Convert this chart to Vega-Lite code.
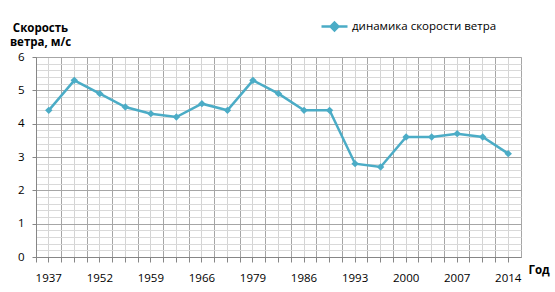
{
  "$schema": "https://vega.github.io/schema/vega-lite/v6.json",
  "width": 485,
  "height": 200,
  "autosize": {"type": "none"},
  "padding": {"left": 36, "top": 57, "right": 34, "bottom": 35},
  "background": "white",
  "config": {
    "view": {"stroke": "#a6a6a6", "strokeWidth": 1},
    "font": "Open Sans",
    "axis": {
      "labelFont": "Open Sans",
      "labelFontSize": 11.5,
      "labelColor": "#000000",
      "titleFont": "Open Sans",
      "titleFontSize": 11.5,
      "titleFontWeight": "bold",
      "titleColor": "#000000",
      "domainColor": "#868686",
      "tickColor": "#868686"
    }
  },
  "data": {
    "values": [
      {"year": "1937", "speed": 4.4},
      {"year": "1945", "speed": 5.3},
      {"year": "1952", "speed": 4.9},
      {"year": "1955", "speed": 4.5},
      {"year": "1959", "speed": 4.3},
      {"year": "1962", "speed": 4.2},
      {"year": "1966", "speed": 4.6},
      {"year": "1972", "speed": 4.4},
      {"year": "1979", "speed": 5.3},
      {"year": "1982", "speed": 4.9},
      {"year": "1986", "speed": 4.4},
      {"year": "1990", "speed": 4.4},
      {"year": "1993", "speed": 2.8},
      {"year": "1996", "speed": 2.7},
      {"year": "2000", "speed": 3.6},
      {"year": "2004", "speed": 3.6},
      {"year": "2007", "speed": 3.7},
      {"year": "2010", "speed": 3.6},
      {"year": "2014", "speed": 3.1}
    ]
  },
  "encoding": {
    "y": {
      "field": "speed",
      "type": "quantitative",
      "scale": {"domain": [0, 6], "nice": false, "zero": true},
      "axis": {
        "values": [0, 0.2, 0.4, 0.6, 0.8, 1, 1.2, 1.4, 1.6, 1.8, 2, 2.2, 2.4, 2.6, 2.8, 3, 3.2, 3.4, 3.6, 3.8, 4, 4.2, 4.4, 4.6, 4.8, 5, 5.2, 5.4, 5.6, 5.8, 6],
        "labelExpr": "abs(datum.value - round(datum.value)) < 0.001 ? '' + round(datum.value) : ''",
        "labelOverlap": false,
        "grid": true,
        "gridColor": {"condition": {"test": "abs(datum.value - round(datum.value)) < 0.001", "value": "#a6a6a6"}, "value": "#d9d9d9"},
        "tickOpacity": {"condition": {"test": "abs(datum.value - round(datum.value)) < 0.001", "value": 1}, "value": 0},
        "tickSize": 4,
        "labelPadding": 8,
        "title": ["Скорость", "ветра, м/с"],
        "titleAngle": 0,
        "titleAlign": "center",
        "titleAnchor": null,
        "titleX": 4,
        "titleY": -35,
        "titleBaseline": "top",
        "titleLineHeight": 14
      }
    }
  },
  "layer": [
    {
      "mark": {"type": "point", "opacity": 0},
      "encoding": {
        "x": {
          "field": "year",
          "type": "ordinal",
          "scale": {"type": "band", "paddingInner": 0, "paddingOuter": 0},
          "axis": {
            "orient": "bottom",
            "bandPosition": 0,
            "labels": false,
            "grid": true,
            "gridColor": "#a6a6a6",
            "ticks": true,
            "tickSize": 5,
            "domain": false,
            "title": null
          }
        }
      }
    },
    {
      "mark": {
        "type": "line",
        "strokeWidth": 2.5,
        "point": {"shape": "diamond", "size": 55, "filled": true, "opacity": 1}
      },
      "encoding": {
        "x": {
          "field": "year",
          "type": "ordinal",
          "bandPosition": 0.5,
          "scale": {"type": "band", "paddingInner": 0, "paddingOuter": 0},
          "axis": {
            "orient": "bottom",
            "bandPosition": 0.5,
            "labelExpr": "indexof(['1937','1952','1959','1966','1979','1986','1993','2000','2007','2014'], datum.label) >= 0 ? datum.label : ''",
            "labelOverlap": false,
            "labelAngle": 0,
            "labelPadding": 10,
            "grid": true,
            "gridColor": "#d4d4d4",
            "ticks": true,
            "tickSize": 5,
            "domain": true,
            "title": "Год",
            "titleAnchor": null,
            "titleAlign": "left",
            "titleBaseline": "middle",
            "titleX": 492,
            "titleY": 13
          }
        },
        "color": {
          "datum": "динамика скорости ветра",
          "type": "nominal",
          "scale": {"range": ["#4bacc6"]},
          "legend": {
            "orient": "none",
            "legendX": 284,
            "legendY": -45,
            "title": null,
            "padding": 0,
            "symbolType": "M-1,0L1,0M0,-0.3L0.3,0L0,0.3L-0.3,0Z",
            "symbolSize": 676,
            "symbolStrokeWidth": 2.5,
            "symbolFillColor": "#4bacc6",
            "symbolStrokeColor": "#4bacc6",
            "labelFont": "Open Sans",
            "labelFontSize": 11.5,
            "labelColor": "#000000",
            "labelOffset": 3
          }
        }
      }
    }
  ],
  "resolve": {"axis": {"x": "independent"}}
}
